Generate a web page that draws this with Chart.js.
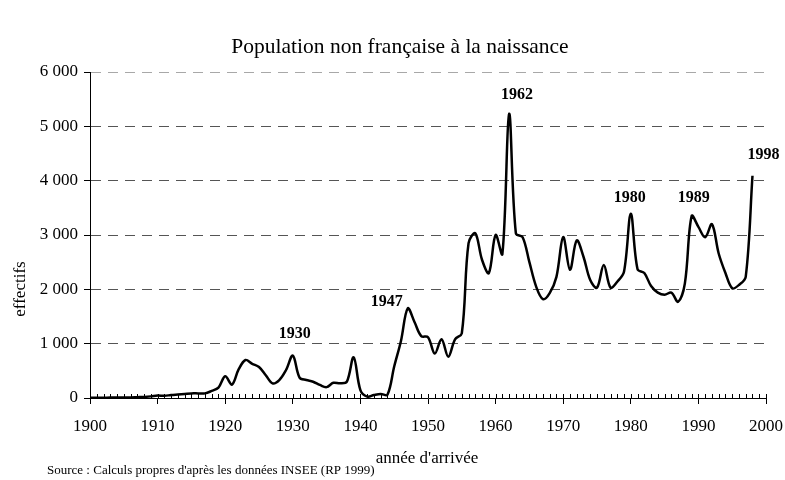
<!DOCTYPE html>
<html>
<head>
<meta charset="utf-8">
<script src="https://cdn.jsdelivr.net/npm/chart.js@4/dist/chart.umd.min.js"></script>
<style>
  html, body { margin: 0; padding: 0; background: #fff; }
  #wrap { width: 785px; height: 480px; }
</style>
</head>
<body>
<div id="wrap"><canvas id="population"></canvas></div>
<script>
// années d'arrivée 1900..1998
const years = [];
for (let y = 1900; y <= 1998; y++) years.push(y);

const effectifs = [
  5, 5, 5, 8, 8, 10, 10, 15, 20, 30,            // 1900-1909
  45, 40, 55, 65, 75, 85, 85, 85, 130, 190,     // 1910-1919
  400, 245, 530, 700, 630, 570, 420, 270, 330, 515, // 1920-1929
  780, 375, 330, 300, 240, 200, 280, 270, 300, 750, // 1930-1939
  145, 25, 55, 75, 60, 580, 1050, 1650, 1400, 1140, // 1940-1949
  1120, 820, 1080, 760, 1080, 1190, 2850, 3030, 2540, 2300, // 1950-1959
  3000, 2650, 5230, 3030, 2960, 2500, 2050, 1820, 1930, 2230, // 1960-1969
  2960, 2360, 2900, 2600, 2170, 2030, 2450, 2030, 2140, 2330, // 1970-1979
  3390, 2370, 2300, 2060, 1940, 1900, 1940, 1770, 2110, 3350, // 1980-1989
  3150, 2960, 3200, 2660, 2300, 2020, 2080, 2230, 4090        // 1990-1998
];

const xTicks = [1900, 1910, 1920, 1930, 1940, 1950, 1960, 1970, 1980, 1990, 2000];
const yTicks = [0, 1000, 2000, 3000, 4000, 5000, 6000];

// années annotées au-dessus des pics
const peakYears = [1930, 1947, 1962, 1980, 1989, 1998];
const peakOffsets = [[2, -22], [-21, -6], [8, -19], [-1, -16], [2, -18], [11, -21]];

const FONT = '"Liberation Serif", "Times New Roman", serif';

function fmt(v) {
  return String(v).replace(/\B(?=(\d{3})+(?!\d))/g, ' ');
}

function noPad(s) {
  s.paddingLeft = 0;
  s.paddingRight = 0;
  s.paddingTop = 0;
  s.paddingBottom = 0;
}

const decor = {
  id: 'decor',
  afterDraw(chart) {
    const c = chart.ctx;
    const xs = chart.scales.x;
    const ys = chart.scales.y;
    const area = chart.chartArea;
    c.save();

    // petites graduations annuelles
    c.strokeStyle = '#000';
    c.lineWidth = 1;
    c.beginPath();
    for (let y = 1900; y <= 2000; y++) {
      const px = Math.round(xs.getPixelForValue(y)) + 0.5;
      c.moveTo(px, area.bottom);
      c.lineTo(px, area.bottom - 4);
    }
    c.stroke();

    c.fillStyle = '#000';
    c.textAlign = 'center';
    c.textBaseline = 'middle';

    c.font = '21.5px ' + FONT;
    c.fillText('Population non française à la naissance', 400, 47);

    c.font = '17px ' + FONT;
    c.fillText("année d'arrivée", 427, 459);

    c.save();
    c.translate(21, 289);
    c.rotate(-Math.PI / 2);
    c.fillText('effectifs', 0, 0);
    c.restore();

    c.textAlign = 'left';
    c.font = '13px ' + FONT;
    c.fillText("Source : Calculs propres d'après les données INSEE (RP 1999)", 47, 471);

    // étiquettes des pics
    c.textAlign = 'center';
    c.font = 'bold 16px ' + FONT;
    peakYears.forEach(function (yr, i) {
      const v = effectifs[years.indexOf(yr)];
      const px = xs.getPixelForValue(yr) + peakOffsets[i][0];
      const py = ys.getPixelForValue(v) + peakOffsets[i][1];
      c.fillText(String(yr), px, py);
    });

    c.restore();
  }
};

const ctx = document.getElementById('population').getContext('2d');
const population = new Chart(ctx, {
  type: 'line',
  data: {
    datasets: [{
      label: 'effectifs',
      data: years.map(function (y, i) { return { x: y, y: effectifs[i] }; }),
      borderColor: '#000',
      borderWidth: 2.5,
      pointRadius: 0,
      tension: 0.35,
      fill: false
    }]
  },
  options: {
    responsive: true,
    maintainAspectRatio: false,
    animation: false,
    layout: {
      padding: { top: 72, right: 19, left: 0, bottom: 0 }
    },
    plugins: {
      legend: { display: false },
      title: { display: false },
      tooltip: { enabled: false }
    },
    scales: {
      x: {
        type: 'linear',
        min: 1900,
        max: 2000,
        afterFit: function (s) { s.height = 82; noPad(s); },
        afterBuildTicks: function (s) { s.ticks = xTicks.map(function (v) { return { value: v }; }); },
        ticks: {
          color: '#000',
          font: { family: FONT, size: 17 },
          padding: 12,
          maxRotation: 0,
          callback: function (v) { return String(v); }
        },
        grid: {
          drawOnChartArea: false,
          drawTicks: true,
          tickLength: 6,
          tickColor: '#000'
        },
        border: { color: '#000', width: 1 }
      },
      y: {
        min: 0,
        max: 6000,
        afterFit: function (s) { s.width = 90; noPad(s); },
        afterBuildTicks: function (s) { s.ticks = yTicks.map(function (v) { return { value: v }; }); },
        ticks: {
          color: '#000',
          font: { family: FONT, size: 17 },
          padding: 6,
          callback: function (v) { return fmt(v); }
        },
        grid: {
          color: function (c) { return c.tick && c.tick.value === 6000 ? '#a8a8a8' : '#555'; },
          lineWidth: 1,
          tickLength: 6,
          tickColor: '#000',
          tickBorderDash: []
        },
        border: { color: '#000', width: 1, dash: [10, 7] }
      }
    }
  },
  plugins: [decor]
});
</script>
</body>
</html>
